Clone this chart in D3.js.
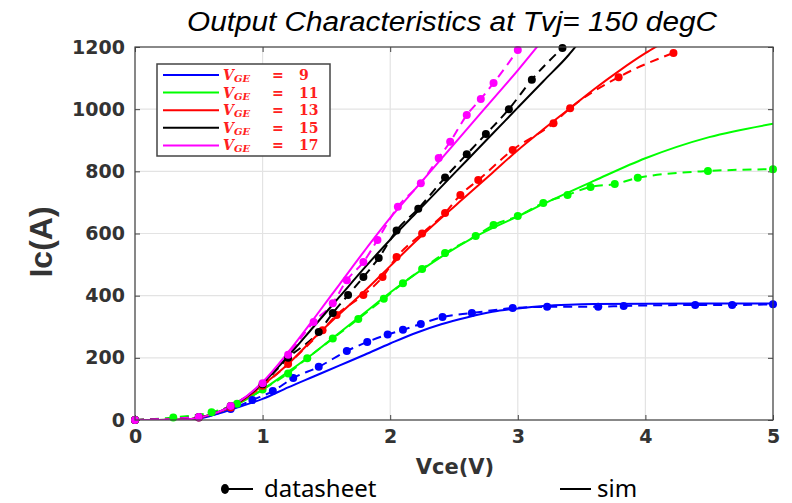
<!DOCTYPE html>
<html lang="en">
<head>
<meta charset="utf-8">
<title>Output Characteristics at Tvj= 150 degC</title>
<script src="https://d3js.org/d3.v7.min.js"></script>
<style>
body { margin: 0; background: #fff; }
</style>
</head>
<body>
<script>
// gate voltages and their colours
var gateVoltages = [9, 11, 13, 15, 17];
var seriesColors = ["#0000ff", "#00ff00", "#ff0000", "#000000", "#ff00ff"];

// simulated curves  [Vce, Ic]
var sim9  = [[0,0],[0.4,0],[0.6,14],[0.8,40],[1.0,68],[1.2,105],[1.4,140],[1.6,175],[1.8,210],[2.0,246],[2.2,280],[2.4,308],[2.6,330],[2.8,348],[3.0,359],[3.2,367],[3.4,371],[3.6,373],[4.0,374],[5.0,375]];
var sim11 = [[0,0],[0.4,2],[0.6,18],[0.8,50],[1.0,98],[1.2,155],[1.4,215],[1.6,280],[1.8,345],[2.0,410],[2.2,470],[2.4,525],[2.6,575],[2.8,617],[3.0,655],[3.2,695],[3.6,770],[4.0,842],[4.5,910],[5.0,953]];
var sim13 = [[0,0],[0.4,2],[0.6,18],[0.8,52],[1.0,112],[1.2,180],[1.4,262],[1.6,340],[1.8,415],[2.0,495],[2.2,575],[2.4,650],[2.6,722],[2.8,795],[3.0,868],[3.2,935],[3.4,1000],[3.6,1065],[3.8,1125],[4.0,1180],[4.1,1205]];
var sim15 = [[0,0],[0.4,2],[0.6,18],[0.8,54],[1.0,118],[1.2,205],[1.4,300],[1.6,395],[1.8,490],[2.0,580],[2.2,665],[2.4,750],[2.6,835],[2.8,920],[3.0,1005],[3.2,1090],[3.4,1175],[3.46,1205]];
var sim17 = [[0,0],[0.4,2],[0.6,18],[0.8,55],[1.0,122],[1.2,218],[1.4,325],[1.6,435],[1.8,545],[2.0,650],[2.2,745],[2.4,840],[2.6,935],[2.8,1030],[3.0,1125],[3.16,1205]];

// datasheet points  [Vce, Ic]
var ds9  = [[0,0],[0.5,8],[0.75,35],[0.92,64],[1.08,93],[1.24,135],[1.44,171],[1.66,222],[1.82,251],[1.98,275],[2.1,290],[2.24,309],[2.41,331],[2.64,344],[2.96,360],[3.23,364],[3.63,364],[3.83,367],[4.39,370],[4.68,370],[5.0,372]];
var ds11 = [[0,0],[0.3,8],[0.6,25],[0.8,52],[1.0,98],[1.2,150],[1.35,199],[1.55,262],[1.75,325],[1.95,390],[2.1,440],[2.25,486],[2.43,537],[2.67,592],[2.81,627],[3.0,656],[3.2,698],[3.39,724],[3.57,750],[3.76,759],[3.94,779],[4.49,801],[5.0,807]];
var ds13 = [[0,0],[0.5,8],[0.75,40],[1.0,110],[1.2,180],[1.47,289],[1.58,338],[1.79,402],[1.94,460],[2.05,524],[2.25,600],[2.43,666],[2.55,724],[2.69,772],[2.96,869],[3.28,955],[3.41,1003],[3.79,1103],[4.22,1181]];
var ds15 = [[0,0],[0.5,10],[0.75,45],[1.0,115],[1.2,200],[1.44,283],[1.55,344],[1.67,402],[1.79,460],[1.91,521],[2.05,610],[2.22,680],[2.43,780],[2.6,855],[2.75,920],[2.93,1000],[3.11,1095],[3.35,1197]];
var ds17 = [[0,0],[0.5,10],[0.75,45],[1.0,118],[1.2,210],[1.4,315],[1.55,376],[1.66,450],[1.79,508],[1.9,579],[2.06,686],[2.24,762],[2.38,843],[2.47,895],[2.6,981],[2.71,1033],[2.81,1084],[3.0,1190]];

var simCurves = [sim9, sim11, sim13, sim15, sim17];
var dsCurves = [ds9, ds11, ds13, ds15, ds17];

var xTicks = [0, 1, 2, 3, 4, 5];
var yTicks = [0, 200, 400, 600, 800, 1000, 1200];

//Width and height
var w = 792, h = 503;
var margin = {left: 135, top: 47, right: 19, bottom: 83};
var pw = w - margin.left - margin.right;
var ph = h - margin.top - margin.bottom;

var x = d3.scaleLinear().domain([0, 5]).range([0, pw]);
var y = d3.scaleLinear().domain([0, 1200]).range([ph, 0]);

var svg = d3.select("body").append("svg")
	.attr("width", w)
	.attr("height", h);

svg.append("defs").append("clipPath").attr("id", "plotclip")
	.append("rect").attr("width", pw).attr("height", ph);

var g = svg.append("g").attr("transform", "translate(" + margin.left + "," + margin.top + ")");

//grid
g.append("g").selectAll("line").data(xTicks).enter().append("line")
	.attr("x1", d => x(d)).attr("x2", d => x(d))
	.attr("y1", 0).attr("y2", ph)
	.attr("stroke", "#e3e3e3").attr("stroke-width", 1.2);
g.append("g").selectAll("line").data(yTicks).enter().append("line")
	.attr("y1", d => y(d)).attr("y2", d => y(d))
	.attr("x1", 0).attr("x2", pw)
	.attr("stroke", "#e3e3e3").attr("stroke-width", 1.2);

//axes with inner ticks on all sides
var tickFont = function(sel) {
	sel.selectAll("text")
		.style("font-family", "'DejaVu Sans', sans-serif")
		.style("font-weight", "bold")
		.style("font-size", "19px")
		.attr("fill", "#333");
	sel.select(".domain").remove();
	sel.selectAll("line").attr("stroke", "#444");
};
g.append("g").attr("transform", "translate(0," + ph + ")")
	.call(d3.axisBottom(x).tickValues(xTicks).tickSizeInner(-5).tickSizeOuter(0).tickPadding(10).tickFormat(d3.format("d")))
	.call(tickFont);
g.append("g")
	.call(d3.axisLeft(y).tickValues(yTicks).tickSizeInner(-5).tickSizeOuter(0).tickPadding(10).tickFormat(d3.format("d")))
	.call(tickFont);
g.append("g")
	.call(d3.axisTop(x).tickValues(xTicks).tickSizeInner(-5).tickSizeOuter(0).tickFormat(""))
	.call(tickFont);
g.append("g").attr("transform", "translate(" + pw + ",0)")
	.call(d3.axisRight(y).tickValues(yTicks).tickSizeInner(-5).tickSizeOuter(0).tickFormat(""))
	.call(tickFont);

//curves
var line = d3.line().x(d => x(d[0])).y(d => y(d[1])).curve(d3.curveMonotoneX);
var plot = g.append("g").attr("clip-path", "url(#plotclip)");

dsCurves.forEach(function(pts, i) {
	plot.append("path").datum(pts)
		.attr("d", line)
		.attr("fill", "none")
		.attr("stroke", seriesColors[i])
		.attr("stroke-width", 2)
		.attr("stroke-dasharray", "9,6");
});
simCurves.forEach(function(pts, i) {
	plot.append("path").datum(pts)
		.attr("d", line)
		.attr("fill", "none")
		.attr("stroke", seriesColors[i])
		.attr("stroke-width", 2);
});
dsCurves.forEach(function(pts, i) {
	g.append("g").selectAll("circle").data(pts).enter().append("circle")
		.attr("cx", d => x(d[0])).attr("cy", d => y(d[1]))
		.attr("r", 4)
		.attr("fill", seriesColors[i]);
});

//box
g.append("rect").attr("width", pw).attr("height", ph)
	.attr("fill", "none").attr("stroke", "#444").attr("stroke-width", 1.2);

//VGE legend
var leg = g.append("g").attr("transform", "translate(22,17)");
leg.append("rect").attr("width", 173).attr("height", 92)
	.attr("fill", "#fff").attr("stroke", "#444").attr("stroke-width", 1.5);
gateVoltages.forEach(function(v, i) {
	var ly = 11 + i * 17.6;
	leg.append("line").attr("x1", 6).attr("x2", 62).attr("y1", ly).attr("y2", ly)
		.attr("stroke", seriesColors[i]).attr("stroke-width", 2);
	var t = leg.append("text").attr("y", ly + 5).attr("fill", "#ff2020")
		.style("font-family", "'DejaVu Serif', serif");
	t.append("tspan").attr("x", 66).style("font-style", "italic").style("font-weight", "bold").style("font-size", "14px").text("V");
	t.append("tspan").attr("dy", 2).style("font-style", "italic").style("font-weight", "bold").style("font-size", "10px").text("GE");
	t.append("tspan").attr("x", 115).attr("dy", -2).style("font-weight", "bold").style("font-size", "14px").text("=");
	t.append("tspan").attr("x", 142).style("font-weight", "bold").style("font-size", "14px").text(v);
});

//title and labels
svg.append("text").attr("x", 452).attr("y", 31).attr("text-anchor", "middle")
	.attr("textLength", 530).attr("lengthAdjust", "spacingAndGlyphs")
	.style("font-family", "'Liberation Sans Narrow', 'Liberation Sans', sans-serif")
	.style("font-style", "italic").style("font-size", "27px")
	.text("Output Characteristics at Tvj= 150 degC");

svg.append("text").attr("transform", "translate(52,242) rotate(-90)").attr("text-anchor", "middle")
	.style("font-family", "'Liberation Sans', Arial, sans-serif").style("font-weight", "bold")
	.style("font-size", "32px").attr("fill", "#333").text("Ic(A)");

svg.append("text").attr("x", 455).attr("y", 474).attr("text-anchor", "middle")
	.style("font-family", "'DejaVu Sans', sans-serif").style("font-weight", "bold")
	.style("font-size", "21px").attr("fill", "#333").text("Vce(V)");

//bottom legend
var bl = svg.append("g");
bl.append("ellipse").attr("cx", 225).attr("cy", 489).attr("rx", 4).attr("ry", 5).attr("fill", "#000");
bl.append("line").attr("x1", 226).attr("x2", 253).attr("y1", 489).attr("y2", 489).attr("stroke", "#000").attr("stroke-width", 2);
bl.append("text").attr("x", 264).attr("y", 497)
	.style("font-family", "'Noto Sans', sans-serif").style("font-size", "24px").text("datasheet");
bl.append("line").attr("x1", 560).attr("x2", 591).attr("y1", 489).attr("y2", 489).attr("stroke", "#000").attr("stroke-width", 2);
bl.append("text").attr("x", 597).attr("y", 497)
	.style("font-family", "'Noto Sans', sans-serif").style("font-size", "24px").text("sim");
</script>
</body>
</html>
